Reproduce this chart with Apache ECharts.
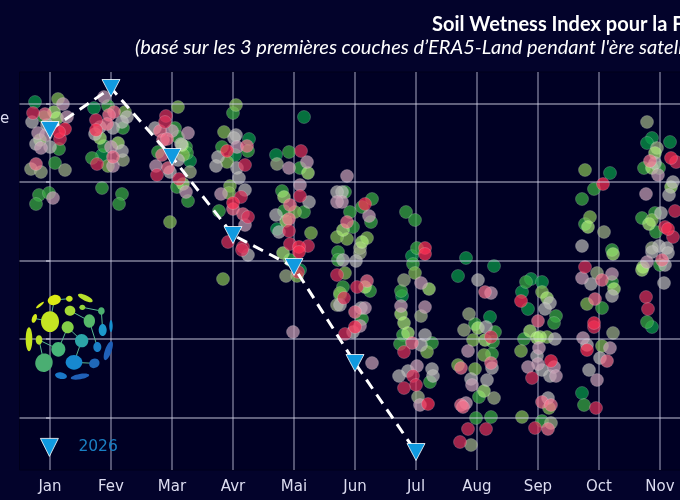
<!DOCTYPE html>
<html><head><meta charset="utf-8">
<style>html,body{margin:0;padding:0;background:#03032b}#c{width:680px;height:500px}</style>
<script src="https://cdn.jsdelivr.net/npm/echarts@6/dist/echarts.min.js"></script>
</head><body><div id="c"></div>
<script>
const months = ['Jan','Fev','Mar','Avr','Mai','Jun','Jul','Aug','Sep','Oct','Nov','Dec'];
const yTicks = [52.5,131,209.5,288,366.5];
const index2026 = [340,382,313,235,203,107,18];

// historical years: [day from mid-January, wetness index]
const darkGreen = [[-7.5,368],[22,362],[26,315],[70,309],[99.5,331],[92.5,315],[127,353],[113,315],[113.5,241],[125,200],[181,214],[176,174],[208,212],[222,204],[204,194],[220,153],[240.5,191],[246,188],[236,178],[239,161],[280,297],[266,77],[301,332],[310,328],[298.5,327],[301,143]];
const green = [[4.5,321],[2.5,307],[-5.5,275],[-0.5,277],[-7,266],[-3,353],[29,364],[27,324],[21,312],[26,282],[36,276],[34.5,266],[36.5,342],[62.5,342],[64,333],[68,323],[54,318],[68.5,317],[63.5,283],[69,269],[91.5,357],[86,323],[99,319],[84.5,259],[119.5,318],[125,302],[116,279],[127,258],[117,259],[120,210],[147.5,278],[150,258],[161,271],[156,263],[160.5,248],[151.5,243],[144,218],[144,210],[145,175],[146.5,183],[160,179],[156,151],[178,258],[182.5,250],[183.5,222],[181.5,206],[175.5,179],[176.5,135],[175,126],[191,127],[190,88],[212.5,146],[222.5,138],[221.5,128],[221,116],[214.5,73],[213,52],[220.5,53],[238,188],[253,154],[252,147],[237,131],[246,49],[272,281],[266,271],[267.5,246],[281,220],[281,188],[276,162],[267,65],[297,302],[304.5,302],[296,252],[302.5,257],[303,238],[305,205],[298.5,148]];
const midGreen = [[4,371],[37.5,358],[29,304],[64,363],[66.5,315],[60,248],[93,365],[87,338],[88.5,308],[90,284],[89.5,277],[86.5,191],[122.5,258],[130.5,237],[123.5,194],[148.5,231],[158.5,232],[147.5,197],[145,177],[143.5,233],[182.5,197],[188.5,118],[211.5,130],[217,115],[204,105],[212.5,101],[246,178],[248.5,133],[235.5,119],[249.5,62],[236,53],[267.5,300],[270,253],[268.5,166],[276,124],[301,250]];
const greyGreen = [[-9.5,301],[-4.5,298],[7.5,300],[36.5,310],[70,298],[113.5,306],[118,194],[155,217],[143.5,165],[155,222],[177,190],[185.5,154],[184,73],[209.5,156],[207,140],[222,72],[210.5,25],[250.5,47],[273.5,197],[277,238],[281.5,137],[298.5,348],[303.5,322],[301,222]];
const lightGreen = [[2,358],[3.5,352],[-5,330],[25,332],[34,327],[66,325],[66.5,286],[129,297],[117,273],[118,249],[116.5,217],[146.5,240],[156,228],[157.5,183],[189.5,181],[175.5,156],[177,147],[179,137],[214,142],[217.5,130],[217,79],[248.5,172],[240,139],[243.5,132],[245,133],[269,243],[281.5,216],[282,181],[302.5,317],[301,302],[310.5,283],[299.5,246],[296.5,203],[296,200]];
const grey = [[-9,348],[0,323],[-7,326],[-1.5,345],[38.5,353],[36,348],[25,343],[31.5,342],[22.5,336],[36,319],[52.5,342],[65.5,326],[64,310],[60,298],[93,335],[92,332],[84,313],[83,304],[93.5,302],[94.5,292],[97.5,280],[99,215],[113,255],[129.5,268],[114.5,238],[146,278],[143.5,278],[153,209],[146.5,210],[155.5,162],[145,165],[151.5,138],[187.5,135],[185.5,125],[179,99],[191,101],[174.5,94],[191.5,94],[214,190],[218,143],[221,102],[210.5,91],[218.5,90],[250,167],[247.5,161],[252.5,131],[243.5,114],[246,100],[250,94],[249,72],[266,224],[270.5,186],[281,174],[268.5,125],[275,112],[269.5,100],[311.5,288],[309.5,275],[305.5,257],[302.5,307],[304.5,224],[308.5,222],[301,218],[309,217],[307.5,205],[307,187]];
const mauve = [[6.5,366],[8.5,353],[-6,337],[-4.5,322],[-2,335],[1.5,272],[27,373],[30.5,323],[31.5,304],[61,339],[69,337],[53,304],[68,278],[93.5,323],[85.5,276],[97.5,245],[128.5,308],[119.5,302],[125,285],[121.5,138],[148.5,294],[146,268],[143.5,268],[159.5,254],[157.5,162],[155,144],[161,107],[185.5,187],[175.5,164],[187.5,163],[183.5,104],[185,65],[220.5,177],[209,119],[211,85],[208,67],[244.5,122],[244,106],[239,103],[252,103],[253,94],[281,196],[266,192],[266.5,132],[280,122],[273.5,90],[304,295],[298,276],[298.5,208]];
const pink = [[-2.5,356],[-7,306],[32,358],[29.5,355],[28.5,346],[31.5,313],[55,339],[56.5,330],[58.5,331],[56,315],[59,302],[98.5,324],[91.5,261],[96.5,256],[120,265],[119.5,251],[148.5,248],[158.5,189],[152.5,158],[181,127],[217.5,178],[220.5,107],[205.5,102],[205.5,65],[206.5,63],[244,149],[246,68],[250.5,65],[249,41],[276,190],[272.5,171],[278.5,109],[300,309],[306,210]];
const crimson = [[-8.5,357],[5,331],[23,350],[23.5,306],[58,354],[57.5,348],[53.5,295],[64.5,291],[97.5,305],[95.5,273],[99,253],[89,228],[96.5,223],[96,220],[125.5,319],[125,274],[120,226],[129,224],[119.5,239],[124,198],[153.5,183],[147,172],[147.5,136],[143.5,195],[177,118],[181.5,94],[183,85],[177,82],[220.5,133],[209,41],[218,41],[205,28],[241,92],[242.5,42],[267.5,203],[272,143],[273,62],[313,308],[312.5,259],[307.5,243],[311.5,233],[298,173],[299,161]];
const brightRed = [[7.5,341],[4.5,338],[23,340],[88.5,319],[91.5,267],[124.5,223],[124.5,218],[157.5,266],[152.5,143],[187.5,222],[187.5,216],[189,66],[235.5,169],[250.5,109],[276.5,286],[272,147],[268.5,120],[310.5,312],[309,241]];

const dotGroups = [
  ['darkGreen', darkGreen, 'rgba(8,155,72,0.9)'],
  ['green', green, 'rgba(58,172,66,0.9)'],
  ['midGreen', midGreen, 'rgba(132,188,84,0.9)'],
  ['greyGreen', greyGreen, 'rgba(156,174,132,0.9)'],
  ['lightGreen', lightGreen, 'rgba(176,240,122,0.85)'],
  ['grey', grey, 'rgba(186,186,184,0.88)'],
  ['mauve', mauve, 'rgba(198,160,180,0.9)'],
  ['pink', pink, 'rgba(244,116,142,0.88)'],
  ['crimson', crimson, 'rgba(220,50,90,0.9)'],
  ['brightRed', brightRed, 'rgba(255,48,84,0.9)']
];

// logo ellipses: centre x, y, radius x, y, rotation in degrees, colour (3x zoom space)
const logoBlobs = [
 [87,268,10,36,0,'#c6e51f'],[117,270,10,14,0,'#b8e02a'],[103,205,7,14,-20,'#d4e81c'],[120,165,15,4,40,'#d4e81c'],
 [163,150,20,15,15,'#dcea14'],[208,146,10,9,0,'#c8e522'],[256,144,24,8,-25,'#b8df2c'],[150,215,27,31,0,'#c4e422'],
 [210,182,16,15,0,'#a6da36'],[247,172,9,8,0,'#94d43e'],[304,183,10,11,0,'#4cb070'],[268,213,17,20,0,'#56b86a'],
 [203,232,18,18,0,'#84cf48'],[175,298,21,22,0,'#46b478'],[132,338,26,28,-20,'#4aae72'],[245,272,20,20,0,'#2ca4a8'],
 [308,240,12,18,0,'#1c98cc'],[333,228,5,18,0,'#1890d0'],[292,291,12,15,0,'#1a80c8'],[325,302,10,30,-20,'#2060b8'],
 [222,337,25,22,0,'#1788cf'],[283,340,16,14,30,'#2068b8'],[183,377,18,10,-10,'#1a78c8'],[240,380,28,8,10,'#2060b8']
];
const logoLinks = [[163,150,208,146],[150,215,163,150],[103,205,150,215],[117,270,175,298],[117,270,132,338],[247,172,304,183],[304,183,308,240],[210,182,268,213],[268,213,292,291],[203,232,175,298],[245,272,222,337],[222,337,283,340],[203,232,245,272]];

const logoEls = [];
logoLinks.forEach(l => logoEls.push({type:'line',z:30,shape:{x1:l[0]/3,y1:250+l[1]/3,x2:l[2]/3,y2:250+l[3]/3},style:{stroke:'#58b890',lineWidth:1}}));
logoBlobs.forEach(b => logoEls.push({type:'ellipse',z:31,x:b[0]/3,y:250+b[1]/3,rotation:b[4]*Math.PI/180,shape:{cx:0,cy:0,rx:b[2]/3,ry:b[3]/3},style:{fill:b[5]}}));

const series = [{
  type:'line', name:'gridY', xAxisIndex:0, yAxisIndex:0, data:[], z:1, silent:true,
  markLine:{silent:true, symbol:'none', label:{show:false}, animation:false,
    lineStyle:{color:'rgba(215,215,235,0.6)',width:1.5,type:'solid'},
    data:yTicks.map(v => ({yAxis:v}))}
}];
dotGroups.forEach(g => series.push({
  type:'scatter', name:g[0], xAxisIndex:1, yAxisIndex:0, data:g[1], symbolSize:13, z:3,
  itemStyle:{color:g[2], borderColor:'rgba(255,255,255,0.4)', borderWidth:0.6}, silent:true
}));
series.push({
  type:'line', name:'2026', xAxisIndex:0, yAxisIndex:0, data:index2026, z:10,
  symbol:'triangle', symbolRotate:180, symbolSize:[18,17], showAllSymbol:true,
  lineStyle:{color:'#fff',type:[11,7],width:3},
  itemStyle:{color:'#109ae0',borderColor:'#fff',borderWidth:0.8}
});

const chart = echarts.init(document.getElementById('c'));
chart.setOption({
  animation:false,
  backgroundColor:'#03032b',
  title:[
    {text:'Soil Wetness Index pour la F',left:432,top:15,padding:0,textStyle:{color:'#fff',fontFamily:'Lato',fontWeight:'bold',fontSize:20}},
    {text:"(basé sur les 3 premières couches d’ERA5-Land pendant l'ère satell",left:135,top:38,padding:0,textStyle:{color:'#fff',fontFamily:'Lato',fontStyle:'italic',fontWeight:'normal',fontSize:20}}
  ],
  legend:{data:[{name:'2026',icon:'path://M0 0 L20 0 L10 20 Z'}],left:40,top:438,padding:0,itemWidth:18,itemHeight:18,itemGap:20,
    textStyle:{color:'#1a80c4',fontFamily:'DejaVu Sans',fontSize:15.5,padding:[3,0,0,15]},itemStyle:{borderColor:'#fff',borderWidth:0.8},lineStyle:{opacity:0}},
  grid:{left:19.5,top:72,width:732,height:398,show:true,backgroundColor:'#000024',borderWidth:1,borderColor:'#00001a',outerBoundsMode:'none'},
  xAxis:[
    {type:'category',data:months,boundaryGap:true,axisLine:{show:false},
     axisTick:{alignWithLabel:true,length:4,lineStyle:{color:'#8a8aa0',width:1.5}},
     splitLine:{show:true,alignWithLabel:true,lineStyle:{color:'rgba(205,205,230,0.55)',width:1.5}},
     axisLabel:{color:'#dcdcf0',fontFamily:'DejaVu Sans',fontSize:15,margin:10,interval:0}},
    {type:'value',min:-15.25,max:350.75,show:false}
  ],
  yAxis:[{type:'value',min:0,max:398,axisLine:{show:false},
     axisLabel:{show:false},
     axisTick:{show:true,length:4,customValues:yTicks,lineStyle:{color:'#9a9ab0',width:1.5}},
     splitLine:{show:false}}],
  series:series,
  graphic:[{type:'text',x:0,y:112,style:{text:'e',fill:'#dcdcf0',font:'15px "DejaVu Sans"'}}].concat(logoEls)
});
</script></body></html>
